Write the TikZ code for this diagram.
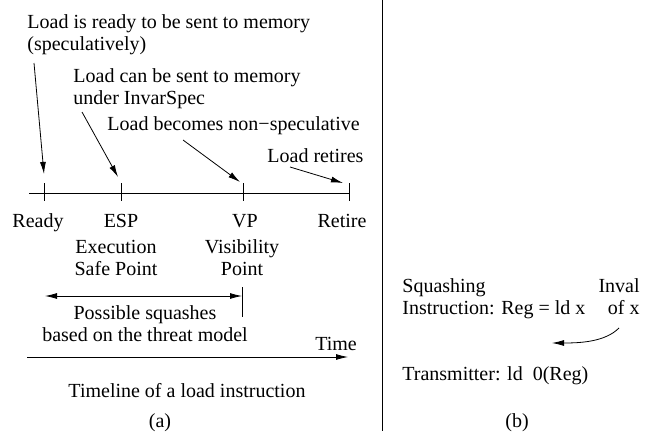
\documentclass[tikz,border=0pt]{standalone}
\usepackage{fontspec}
\setmainfont{Liberation Serif}
\usetikzlibrary{arrows.meta}

\begin{document}
\begin{tikzpicture}[x=1pt,y=-1pt,line width=0.8pt,
    every node/.style={inner sep=0pt,font=\fontsize{20}{22}\selectfont},
    lbl/.style={anchor=base west,align=left},
    ctr/.style={anchor=base,align=center},
    tip/.style={-{Latex[length=12pt,width=6pt]}}]
        \useasboundingbox (0,0) rectangle (653,431);

        % (a) timeline of a load
        \node[lbl] (rdytxt) at (27,50) {Load is ready to be sent to memory\\(speculatively)};
        \node[lbl] (esptxt) at (73,104) {Load can be sent to memory\\under InvarSpec};
        \node[lbl] (vptxt) at (107,130) {Load becomes non−speculative};
        \node[lbl] (rettxt) at (267,162) {Load retires};

        \coordinate (a1s) at (34,63);
        \coordinate (a1e) at (44,174);
        \coordinate (a2s) at (82,112);
        \coordinate (a2e) at (118,177);
        \coordinate (a3s) at (183,140);
        \coordinate (a3e) at (240,182);
        \coordinate (a4s) at (290,167);
        \coordinate (a4e) at (343,183);
        \draw[tip] (a1s) -- (a1e);
        \draw[tip] (a2s) -- (a2e);
        \draw[tip] (a3s) -- (a3e);
        \draw[tip] (a4s) -- (a4e);

        \coordinate (tl0) at (29,193);
        \coordinate (tl1) at (349,193);
        \draw (tl0) -- (tl1);
        \foreach \x in {44,121,243,349}
            \draw (\x,183) -- (\x,201);

        \node[ctr] (ready) at (38,227) {Ready};
        \node[ctr] (esp) at (121,227) {ESP};
        \node[ctr] (vp) at (245,227) {VP};
        \node[ctr] (retire) at (342,227) {Retire};
        \node[ctr] (espname) at (116,275) {Execution\\Safe Point};
        \node[ctr] (vpname) at (242,275) {Visibility\\Point};

        \coordinate (sq0) at (45,296);
        \coordinate (sq1) at (242,296);
        \draw[{Latex[length=12pt,width=6pt]}-{Latex[length=12pt,width=6pt]}] (sq0) -- (sq1);
        \draw (242,287) -- (242,317);
        \node[ctr] (squash) at (145,341) {Possible squashes\\based on the threat model};

        \node[ctr] (time) at (336,350) {Time};
        \coordinate (t0) at (27,357);
        \coordinate (t1) at (348,357);
        \draw[tip] (t0) -- (t1);

        \node[ctr] (cap) at (187,397) {Timeline of a load instruction};
        \node[ctr] (capa) at (160,427) {(a)};

        \draw (382,0) -- (382,431);

        % (b) squashing and transmitter
        \node[lbl] (sqins) at (402,314) {Squashing\\Instruction: Reg = ld x};
        \node[anchor=base east,align=right] (inval) at (640,314) {Inval\\of x};
        \coordinate (c0) at (619,328);
        \coordinate (c1) at (552,343);
        \draw[tip] (c0) .. controls (605,342) and (580,343) .. (c1);
        \node[lbl] (trans) at (402,380) {Transmitter: ld~~0(Reg)};
        \node[ctr] (capb) at (517,427) {(b)};
\end{tikzpicture}
\end{document}
